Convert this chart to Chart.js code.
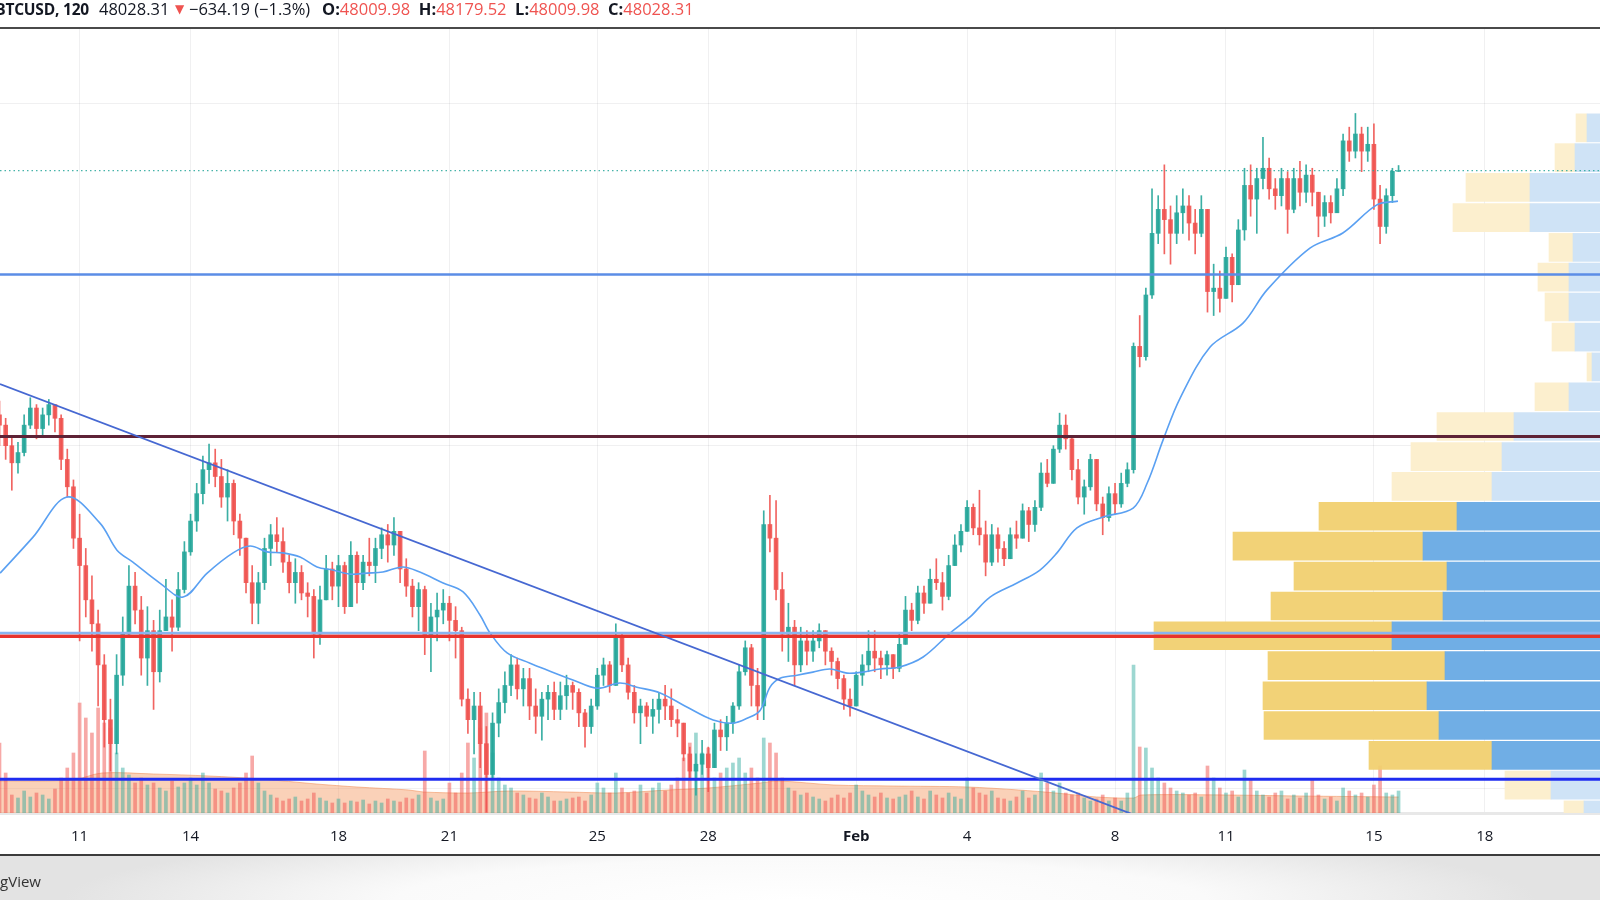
<!DOCTYPE html>
<html>
<head>
<meta charset="utf-8">
<title>BTCUSD, 120</title>
<script src="https://cdn.jsdelivr.net/npm/chart.js@4.4.1/dist/chart.umd.min.js"></script>
<style>
  html, body { margin: 0; padding: 0; background: #fff; }
  #wrap { position: relative; width: 1600px; height: 900px; overflow: hidden; background: #fff; }
  #chart { position: absolute; left: 0; top: 0; }
  .hdr { position: absolute; top: 0; height: 20px; line-height: 18px; font-family: 'Open Sans', sans-serif; font-size: 16.5px; color: #131722; white-space: nowrap; }
  .hdr b { font-weight: 700; }
  .red { color: #ef5350; }
  #hline { position: absolute; left: 0; top: 27px; width: 1600px; height: 2px; background: #4a4a4a; }
  #footer { position: absolute; left: 0; top: 854px; width: 1600px; height: 46px; border-top: 2px solid #3c3c3c; box-sizing: border-box;
    background: radial-gradient(ellipse 46% 170% at 50% 100%, #ffffff 0%, #fafafa 55%, #e3e3e3 100%); }
  #brand { position: absolute; right: 1559px; top: 15px; font-family: 'Open Sans', sans-serif; font-size: 15px; color: #333; white-space: nowrap; }
</style>
</head>
<body>
<div id="wrap">
  <canvas id="chart" width="1600" height="855"></canvas>
  <div class="hdr" style="right:1511px; font-size:15.5px; letter-spacing:-0.2px"><b>BTCUSD, 120</b></div>
  <div class="hdr" style="left:99px">48028.31</div>
  <div class="hdr red" style="left:175px; font-size:12px; font-family:'DejaVu Sans', sans-serif">▼</div>
  <div class="hdr" style="left:189px">−634.19 (−1.3%)</div>
  <div class="hdr" style="left:322px"><b>O:</b><span class="red">48009.98</span>&nbsp; <b>H:</b><span class="red">48179.52</span>&nbsp; <b>L:</b><span class="red">48009.98</span>&nbsp; <b>C:</b><span class="red">48028.31</span></div>
  <div id="hline"></div>
  <div id="footer"><div id="brand">TradingView</div></div>
</div>
<script>
// Time axis: days counted from Jan 0 (Feb 1 = 32)
const candleStart = 8 + 20 / 24;   // first visible bar: Jan 8, 20:00
const candleStep = 4 / 24;         // one bar every 4 hours

// Prices in thousands of USD
const firstOpen = 40.9;
const closes = [40.6,
  40.0,39.5,39.8,40.6,41.1,40.5,
  40.9,41.2,40.8,39.6,38.8,37.3,
  36.5,35.5,34.8,33.6,32.0,31.3,
  33.3,34.5,35.9,35.2,33.8,34.6,
  33.4,34.6,35.0,34.7,35.8,36.9,
  37.8,38.6,39.3,39.5,39.1,38.5,
  38.9,37.8,37.3,36.0,35.4,36.0,
  37.0,37.4,37.2,36.6,36.0,36.3,
  35.7,35.6,34.5,35.5,36.4,35.9,
  36.5,35.3,36.8,36.0,36.6,36.5,
  37.0,37.4,37.1,37.5,36.4,35.9,
  35.3,35.8,34.4,35.0,35.2,35.4,
  34.9,34.6,32.6,32.0,32.4,31.3,
  30.4,31.9,32.5,33.0,33.6,32.9,
  33.2,32.4,32.1,32.6,32.8,32.3,
  32.7,33.0,32.8,32.2,31.8,32.4,
  33.3,33.6,33.0,34.4,33.6,32.8,
  32.2,32.4,32.1,32.3,32.6,32.4,
  32.0,31.9,31.0,30.5,30.7,31.0,
  30.6,31.7,31.5,31.9,32.4,33.4,
  34.1,33.0,32.4,37.7,37.3,35.8,
  34.5,34.7,33.6,34.3,34.0,34.3,
  34.6,34.0,33.7,33.2,32.6,32.4,
  33.3,33.6,34.0,33.8,33.6,33.9,
  33.5,34.2,35.2,34.9,35.7,35.4,
  36.1,36.0,35.6,36.5,37.1,37.5,
  38.2,37.6,37.4,36.6,37.4,37.0,
  36.7,37.4,37.3,38.1,37.7,38.2,
  39.2,38.9,39.9,40.6,40.2,39.3,
  38.5,38.8,39.6,38.3,37.9,38.6,
  38.3,38.9,39.3,42.9,42.6,44.4,
  46.2,46.9,46.6,46.2,46.8,47.0,
  46.5,46.2,46.9,44.5,44.6,44.3,
  45.5,44.7,46.3,47.6,47.2,47.8,
  48.1,47.5,47.3,47.8,46.9,47.8,
  47.4,47.9,47.4,46.7,47.1,46.8,
  47.5,48.9,48.6,49.1,48.6,48.8,
  47.2,46.4,47.3,48.01,48.03];
const highs = [41.3,
  40.8,40.3,40.1,40.9,41.4,41.2,
  41.1,41.35,41.2,40.9,39.9,39.0,
  38.0,37.0,36.2,35.2,33.9,32.6,
  33.9,35.0,36.5,36.3,35.6,35.3,
  34.9,35.2,36.1,35.5,36.3,37.2,
  38.0,38.9,39.7,40.05,39.9,39.6,
  39.3,39.0,38.0,37.3,36.5,36.3,
  37.3,37.7,37.9,37.6,36.8,36.7,
  36.5,36.0,35.8,35.9,36.8,36.6,
  36.8,36.6,37.2,36.9,36.8,37.3,
  37.3,37.6,37.7,37.9,37.5,36.7,
  36.1,36.0,35.9,35.4,35.7,35.8,
  35.6,35.3,34.7,32.9,32.8,32.8,
  31.8,32.2,32.9,33.4,33.9,33.8,
  33.5,33.5,32.9,32.8,33.0,33.1,
  33.1,33.3,33.1,32.9,32.3,32.6,
  33.5,33.8,33.7,34.8,34.5,33.8,
  33.0,32.6,32.5,32.6,32.8,33.0,
  32.9,32.3,31.9,31.2,31.0,31.4,
  31.2,31.9,32.0,32.1,32.5,33.6,
  34.3,34.2,33.5,38.1,38.55,38.4,
  36.3,35.4,34.9,34.7,34.6,34.6,
  34.8,34.5,34.1,33.8,33.3,32.9,
  33.4,33.9,34.6,34.6,34.0,34.0,
  33.9,34.5,35.6,35.4,35.9,35.9,
  36.4,36.7,36.3,36.8,37.4,37.7,
  38.4,38.3,38.7,37.8,37.7,37.6,
  37.2,37.6,37.8,38.3,38.2,38.4,
  39.5,39.6,40.0,40.95,40.9,40.3,
  39.6,39.0,39.75,39.6,38.5,38.8,
  38.9,39.2,39.5,43.0,43.8,44.6,
  47.5,47.3,48.2,47.0,47.3,47.5,
  47.3,46.9,47.3,46.8,45.3,45.1,
  45.8,45.6,46.6,48.1,48.2,48.1,
  49.0,48.4,47.8,48.1,48.0,48.1,
  48.3,48.2,48.1,47.4,47.3,47.3,
  47.8,49.1,49.3,49.7,49.3,49.3,
  49.4,47.6,47.5,48.1,48.18];
const lows = [40.0,
  39.6,38.7,39.2,39.7,40.5,40.2,
  40.3,40.6,40.4,39.3,38.5,37.0,
  34.3,35.0,34.0,32.4,31.2,30.5,
  31.0,33.0,34.4,34.8,33.3,33.0,
  32.3,33.1,34.6,34.0,34.6,35.7,
  36.8,37.5,38.3,38.9,38.8,38.2,
  37.8,37.4,36.8,35.7,34.8,34.8,
  35.8,36.5,36.9,36.3,35.7,35.4,
  35.5,35.0,33.8,34.2,35.6,35.5,
  35.3,35.1,35.3,35.4,35.8,36.2,
  36.0,36.7,36.6,36.8,36.0,35.6,
  35.0,34.6,33.9,33.4,34.3,34.8,
  34.3,33.8,32.4,31.6,31.0,30.6,
  29.3,30.3,31.5,32.2,32.7,32.6,
  32.4,32.0,31.6,31.4,32.0,32.0,
  32.0,32.3,32.3,31.8,31.2,31.6,
  32.3,33.0,32.8,33.0,33.4,32.6,
  31.9,31.3,31.8,31.6,31.9,32.0,
  31.8,31.5,30.8,30.3,29.8,30.4,
  29.9,30.6,31.1,31.1,31.6,32.3,
  33.3,32.4,32.0,32.0,36.9,35.5,
  34.0,33.7,33.0,33.4,33.6,33.7,
  34.1,33.6,33.3,32.9,32.3,32.1,
  32.4,33.0,33.4,33.4,33.2,33.3,
  33.2,33.4,34.2,34.6,34.8,35.1,
  35.4,35.8,35.2,35.5,36.6,36.9,
  37.5,37.4,37.1,36.2,36.5,36.6,
  36.5,36.7,37.0,37.5,37.2,37.5,
  38.1,38.8,38.9,39.8,39.9,39.0,
  38.3,38.0,38.7,38.1,37.4,37.8,
  38.0,38.2,38.8,39.2,42.3,42.5,
  44.3,45.9,45.6,45.3,45.9,46.2,
  46.0,45.6,46.1,43.9,43.8,43.9,
  44.3,44.2,44.7,46.0,46.7,46.2,
  47.5,47.2,46.9,47.0,46.2,46.8,
  47.0,47.1,47.0,46.1,46.4,46.5,
  46.8,47.3,48.3,48.4,48.0,48.3,
  46.9,45.9,46.2,47.1,48.01];

// Volume per bar (arbitrary units)
const volumes = [70,
  40,18,15,22,16,20,
  18,14,24,35,45,60,
  110,95,80,105,90,85,
  60,45,38,30,35,28,
  30,25,22,32,26,30,
  35,28,40,30,24,22,
  20,25,30,40,57,30,
  22,18,15,12,14,16,
  12,14,20,15,12,10,
  14,10,12,11,13,9,
  12,10,14,12,11,15,
  14,18,62,15,12,14,
  30,20,40,70,55,85,
  100,60,35,28,25,20,
  18,15,14,20,16,12,
  12,14,15,16,12,18,
  30,25,20,40,25,20,
  22,28,20,25,30,22,
  28,35,55,70,80,60,
  65,35,40,45,50,55,
  40,45,35,75,70,60,
  35,25,22,18,20,16,
  14,12,15,18,15,20,
  28,22,18,16,20,15,
  14,16,18,22,16,14,
  22,18,15,20,16,14,
  35,25,20,18,22,15,
  14,12,16,22,15,18,
  40,30,22,30,20,18,
  20,15,12,14,18,12,
  15,12,20,148,66,65,
  45,35,30,25,22,20,
  18,20,16,47,35,25,
  20,22,16,43,33,22,
  18,16,20,22,14,18,
  15,20,33,18,14,16,
  12,25,22,18,20,16,
  28,47,20,18,22];

// Moving average of price
const maDays = [8.85,9.74,10.66,11.55,12.01,12.44,13.17,13.80,14.45,15.15,15.61,16.07,16.50,16.96,17.42,17.85,18.31,18.77,19.20,19.74,
  20.20,20.83,21.37,21.83,22.10,22.56,23.18,23.64,24.34,24.99,25.61,26.07,26.70,27.42,28.13,28.67,29.05,29.40,29.67,29.94,
  30.40,30.83,31.29,31.75,32.18,32.64,33.18,33.81,34.54,35.08,35.62,36.35,36.97,37.43,37.97,38.68,39.49,39.87,40.30,40.76,
  41.57,42.46,43.11,44.27,45.16,46.08,46.65];
const maVals = [36.28,37.33,38.50,37.74,36.95,36.60,35.99,35.58,36.28,36.87,37.07,36.90,36.87,36.75,36.46,36.37,36.25,36.28,36.31,36.46,
  36.31,35.99,35.73,35.05,34.53,33.95,33.65,33.45,33.16,32.92,33.07,32.95,32.78,32.37,31.99,31.90,32.04,32.27,32.95,33.21,
  33.30,33.39,33.48,33.36,33.39,33.48,33.54,33.83,34.53,35.00,35.58,35.99,36.37,36.87,37.60,37.92,38.18,38.91,40.17,41.39,
  42.88,43.58,44.55,45.77,46.21,47.03,47.14];

// Moving average of volume
const volMaDays = [8.85,10.8,11.6,13.0,14.5,15.9,17.4,18.5,19.9,20.3,21.5,22.6,24.2,25.5,26.9,28.0,29.4,29.9,31.4,33.0,35.0,36.4,37.4,38.5,39.5,39.7,42.0,44.0,46.67];
const volMaVals = [32,33,40,39,37,34,29,26,23,21,20,22,21,20,23,25,30,32,28,27,26,23,20,16,15,18,18,17,16];

// Volume profile (visible range): row price centres, buy and sell volume
const profilePrices = [49.28,48.41,47.54,46.66,45.79,44.92,44.05,43.17,42.30,41.43,40.56,39.68,38.81,37.94,37.07,36.19,35.32,34.45,33.58,32.70,31.83,30.96,30.09,29.22];
const profileBuy  = [13,25,70,70,27,31,31,25,8,31,86,98,108,143,177,153,157,208,155,173,161,108,49,16];
const profileSell = [11,20,64,77,24,31,24,23,5,34,77,91,100,138,190,153,172,238,177,164,175,123,46,20];
const valueAreaFirst = 13, valueAreaLast = 21;

// Drawn levels and trend line
const levels = [45.0, 40.27, 34.53, 34.435, 30.26];
const trendDays = [8.847, 39.57];
const trendVals = [41.80, 29.20];
const lastPrice = 48.03;

const tickDays = [11, 14, 18, 21, 25, 28, 32, 35, 39, 42, 46, 49];
const tickLabels = ['11', '14', '18', '21', '25', '28', 'Feb', '4', '8', '11', '15', '18'];

const xMin = 8.847, xMax = 52.114;
const yMin = 29.276, yMax = 52.166;

// Colours
const UP = 'rgba(38,166,154,0.9)';
const DOWN = 'rgba(239,83,80,0.9)';
const VUP = 'rgba(38,166,154,0.45)';
const VDOWN = 'rgba(239,83,80,0.5)';
const levelStyles = [
  { color: '#5b8de6', width: 2.5 },
  { color: '#5e2236', width: 3 },
  { color: '#8ab4ef', width: 2.5 },
  { color: '#e8332c', width: 3.5 },
  { color: '#1f2cf0', width: 3 }
];

// Build candles
const bodies = [], wicks = [], vols = [], candleColors = [], volColors = [];
let prevClose = firstOpen;
for (let i = 0; i < closes.length; i++) {
  const t = candleStart + i * candleStep;
  const o = prevClose, c = closes[i];
  const up = c >= o;
  bodies.push({ x: t, y: [o, c] });
  wicks.push({ x: t, y: [Math.min(lows[i], o, c), Math.max(highs[i], o, c)] });
  vols.push({ x: t, y: volumes[i] });
  candleColors.push(up ? UP : DOWN);
  volColors.push(up ? VUP : VDOWN);
  prevClose = c;
}

const inVA = i => i >= valueAreaFirst && i <= valueAreaLast;
const buyBars = profilePrices.map((p, i) => ({ y: p, x: [0, profileBuy[i]] }));
const sellBars = profilePrices.map((p, i) => ({ y: p, x: [profileBuy[i], profileBuy[i] + profileSell[i]] }));
const buyColors = profilePrices.map((p, i) => inVA(i) ? 'rgba(104,170,228,0.95)' : 'rgba(204,226,246,0.95)');
const sellColors = profilePrices.map((p, i) => inVA(i) ? 'rgba(241,208,112,0.95)' : 'rgba(252,238,203,0.95)');

const lineDs = (label, pts, color, width, order, extra) => Object.assign({
  type: 'line', label, data: pts, xAxisID: 'x', yAxisID: 'y',
  borderColor: color, borderWidth: width, pointRadius: 0, fill: false, order
}, extra || {});

const datasets = [
  lineDs('Volume MA', volMaDays.map((d, i) => ({ x: d, y: volMaVals[i] })), 'rgba(240,140,85,0.55)', 1, 10,
    { yAxisID: 'yv', fill: 'origin', backgroundColor: 'rgba(244,152,98,0.45)', tension: 0.3 }),
  { type: 'bar', label: 'Volume', data: vols, xAxisID: 'x', yAxisID: 'yv', backgroundColor: volColors,
    barThickness: 3, grouped: false, order: 9 },
  { type: 'bar', label: 'Profile up', indexAxis: 'y', data: buyBars, xAxisID: 'xp', yAxisID: 'y',
    backgroundColor: buyColors, barThickness: 28, grouped: false, order: 8 },
  { type: 'bar', label: 'Profile down', indexAxis: 'y', data: sellBars, xAxisID: 'xp', yAxisID: 'y',
    backgroundColor: sellColors, barThickness: 28, grouped: false, order: 8 },
  { type: 'bar', label: 'Wicks', data: wicks, xAxisID: 'x', yAxisID: 'y', backgroundColor: candleColors,
    barThickness: 1, grouped: false, order: 7 },
  { type: 'bar', label: 'Candles', data: bodies, xAxisID: 'x', yAxisID: 'y', backgroundColor: candleColors,
    barThickness: 4, grouped: false, order: 6 },
  lineDs('MA', maDays.map((d, i) => ({ x: d, y: maVals[i] })), '#5aa0f2', 1.6, 5, { tension: 0.35 })
];
levels.forEach((lv, i) => {
  datasets.push(lineDs('Level ' + lv, [{ x: xMin, y: lv }, { x: xMax, y: lv }], levelStyles[i].color, levelStyles[i].width, 4));
});
datasets.push(lineDs('Trend', trendDays.map((d, i) => ({ x: d, y: trendVals[i] })), '#4668d2', 1.8, 3));
datasets.push(lineDs('Last', [{ x: xMin, y: lastPrice }, { x: xMax, y: lastPrice }], 'rgba(38,166,154,0.85)', 1.3, 2,
  { borderDash: [1.5, 3] }));

const gridColor = 'rgba(42,46,57,0.07)';

new Chart(document.getElementById('chart'), {
  type: 'bar',
  data: { datasets },
  options: {
    responsive: false,
    animation: false,
    events: [],
    layout: { padding: { top: 29, left: 0, right: 0, bottom: 0 } },
    plugins: { legend: { display: false }, tooltip: { enabled: false } },
    scales: {
      x: {
        type: 'linear', min: xMin, max: xMax, offset: false,
        grid: { color: gridColor, drawTicks: false, offset: false },
        border: { display: true, color: '#e8e8e8', width: 3 },
        afterBuildTicks: s => { s.ticks = tickDays.map(v => ({ value: v })); },
        afterFit: s => { s.height = 42; },
        ticks: {
          autoSkip: false, maxRotation: 0, padding: 15, color: '#131722',
          font: ctx => ({ family: 'Open Sans', size: 15, weight: ctx.tick && ctx.tick.value === 32 ? 'bold' : 'normal' }),
          callback: v => tickLabels[tickDays.indexOf(v)]
        }
      },
      y: {
        type: 'linear', position: 'left', min: yMin, max: yMax, offset: false,
        grid: { color: gridColor, drawTicks: false, offset: false },
        border: { display: false },
        ticks: { display: false },
        afterBuildTicks: s => { s.ticks = s.ticks.filter(t => Math.abs(t.value / 2 - Math.round(t.value / 2)) < 1e-6); },
        afterFit: s => { s.width = 0; }
      },
      yv: { type: 'linear', display: false, position: 'right', min: 0, max: 784, offset: false },
      xp: { type: 'linear', display: false, position: 'top', min: 0, max: 1600, reverse: true, offset: false, grid: { offset: false } }
    }
  }
});
</script>
</body>
</html>
